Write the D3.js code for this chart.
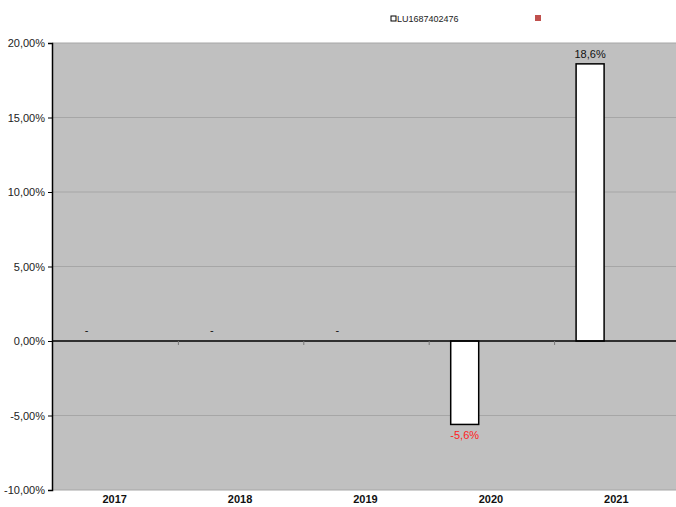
<!DOCTYPE html>
<html>
<head>
<meta charset="utf-8">
<script src="https://cdn.jsdelivr.net/npm/d3@7"></script>
<style>
  body { margin: 0; background: #fff; }
  text { font-family: "Liberation Sans", Arial, sans-serif; }
</style>
</head>
<body>
<svg id="chart" width="676" height="507"></svg>
<script>
  var years = ["2017", "2018", "2019", "2020", "2021"];
  var values = [null, null, null, -5.6, 18.6];
  var seriesNames = ["LU1687402476", ""];
  var yTicks = [-10, -5, 0, 5, 10, 15, 20];

  var svg = d3.select("#chart");
  var plotLeft = 52, plotRight = 679, plotTop = 43, plotBottom = 490;

  var x = d3.scaleBand().domain(years).range([plotLeft, plotRight]);
  // slot for the bar within a category (series 0 of three slots)
  var slot = d3.scaleBand().domain([0, 1, 2]).range([22.5, 106.5]);
  var y = d3.scaleLinear().domain([-10, 20]).range([plotBottom, plotTop]);

  var fmt = function (v) { return v.toFixed(2).replace(".", ",") + "%"; };

  svg.append("rect")
    .attr("x", plotLeft).attr("y", plotTop)
    .attr("width", plotRight - plotLeft).attr("height", plotBottom - plotTop)
    .attr("fill", "#c0c0c0");

  // grid
  svg.selectAll("line.grid")
    .data(yTicks.filter(function (d) { return d !== 0; }))
    .enter().append("line")
    .attr("class", "grid")
    .attr("x1", plotLeft).attr("x2", plotRight)
    .attr("y1", function (d) { return y(d); })
    .attr("y2", function (d) { return y(d); })
    .attr("stroke", "#a6a6a6").attr("stroke-width", 1);

  // y axis
  var yAxis = d3.axisLeft(y).tickValues(yTicks).tickFormat(fmt).tickSize(4).tickPadding(3);
  var gy = svg.append("g").attr("transform", "translate(" + plotLeft + ",0)").call(yAxis);
  gy.select(".domain").attr("stroke", "#000").attr("stroke-width", 1.5);
  gy.selectAll(".tick line").attr("stroke", "#000");
  gy.selectAll("text").attr("font-size", 11).attr("fill", "#222")
    .attr("font-family", "'Liberation Sans', Arial, sans-serif");

  // bars
  svg.selectAll("rect.bar")
    .data(values.map(function (v, i) { return { year: years[i], v: v }; })
      .filter(function (d) { return d.v !== null; }))
    .enter().append("rect")
    .attr("class", "bar")
    .attr("x", function (d) { return x(d.year) + slot(0); })
    .attr("width", slot.bandwidth())
    .attr("y", function (d) { return y(Math.max(0, d.v)); })
    .attr("height", function (d) { return Math.abs(y(d.v) - y(0)); })
    .attr("fill", "#fff").attr("stroke", "#000").attr("stroke-width", 1.5);

  // zero line + category ticks
  svg.append("line")
    .attr("x1", plotLeft).attr("x2", plotRight)
    .attr("y1", y(0)).attr("y2", y(0))
    .attr("stroke", "#000").attr("stroke-width", 1.5);
  svg.selectAll("line.ctick")
    .data(years.slice(1))
    .enter().append("line")
    .attr("class", "ctick")
    .attr("x1", function (d) { return x(d) + 1; })
    .attr("x2", function (d) { return x(d) + 1; })
    .attr("y1", y(0)).attr("y2", y(0) + 4)
    .attr("stroke", "#777");

  // data labels
  svg.selectAll("text.lbl")
    .data(values.map(function (v, i) { return { year: years[i], v: v }; }))
    .enter().append("text")
    .attr("class", "lbl")
    .attr("text-anchor", "middle")
    .attr("font-size", 11)
    .attr("x", function (d) { return x(d.year) + slot(0) + slot.bandwidth() / 2 - (d.v === null ? 2 : 0); })
    .attr("y", function (d) {
      if (d.v === null) return y(0) - 7;
      return d.v >= 0 ? y(d.v) - 6 : y(d.v) + 15;
    })
    .attr("fill", function (d) { return d.v !== null && d.v < 0 ? "#ff2020" : "#111"; })
    .text(function (d) { return d.v === null ? "-" : d.v.toFixed(1).replace(".", ",") + "%"; });

  // x labels
  svg.selectAll("text.year")
    .data(years)
    .enter().append("text")
    .attr("class", "year")
    .attr("x", function (d) { return x(d) + x.bandwidth() / 2; })
    .attr("y", 507 - 4)
    .attr("text-anchor", "middle")
    .attr("font-size", 11).attr("font-weight", "bold")
    .attr("fill", "#111")
    .text(function (d) { return d; });

  // legend
  var legend = svg.append("g");
  legend.append("rect")
    .attr("x", 391).attr("y", 16).attr("width", 5).attr("height", 5)
    .attr("fill", "#fff").attr("stroke", "#000").attr("stroke-width", 1);
  legend.append("text")
    .attr("x", 397).attr("y", 22)
    .attr("font-size", 9).attr("fill", "#222")
    .text(seriesNames[0]);
  legend.append("rect")
    .attr("x", 535).attr("y", 15).attr("width", 6).attr("height", 6)
    .attr("fill", "#c0504d");
</script>
</body>
</html>
